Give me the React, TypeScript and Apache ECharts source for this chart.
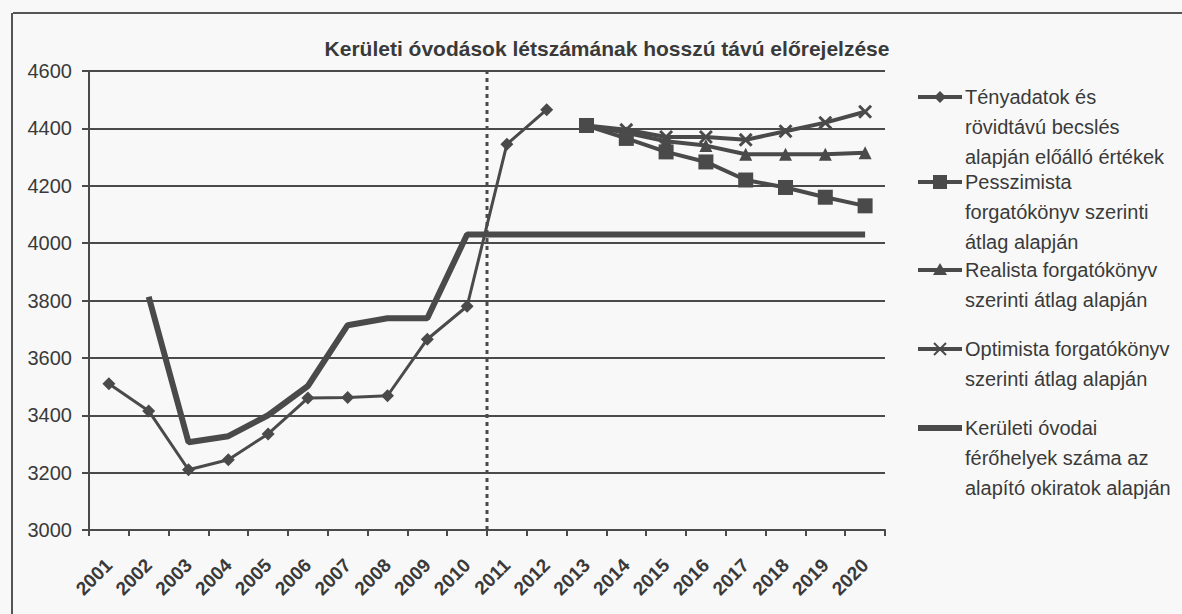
import React, { useEffect, useRef } from "react";
import * as echarts from "echarts";

const years = ["2001","2002","2003","2004","2005","2006","2007","2008","2009","2010","2011","2012","2013","2014","2015","2016","2017","2018","2019","2020"];
const tenyadatok = [3510, 3415, 3210, 3245, 3335, 3460, 3462, 3468, 3665, 3780, 4345, 4465, null, null, null, null, null, null, null, null];
const pesszimista = [null, null, null, null, null, null, null, null, null, null, null, null, 4410, 4365, 4318, 4283, 4220, 4194, 4160, 4130];
const realista = [null, null, null, null, null, null, null, null, null, null, null, null, 4410, 4385, 4355, 4340, 4310, 4310, 4310, 4315];
const optimista = [null, null, null, null, null, null, null, null, null, null, null, null, 4410, 4395, 4370, 4370, 4360, 4390, 4420, 4458];
const ferohelyek = [null, 3813, 3306, 3327, 3400, 3502, 3714, 3738, 3738, 4030, 4030, 4030, 4030, 4030, 4030, 4030, 4030, 4030, 4030, 4030];
const dividerLine = [[10, 3000], [10, 4600]];

const seriesNames = [
  "Tényadatok és\nrövidtávú becslés\nalapján előálló értékek",
  "Pesszimista\nforgatókönyv szerinti\nátlag alapján",
  "Realista forgatókönyv\nszerinti átlag alapján",
  "Optimista forgatókönyv\nszerinti átlag alapján",
  "Kerületi óvodai\nférőhelyek száma az\nalapító okiratok alapján",
];
const title = "Kerületi óvodások létszámának hosszú távú előrejelzése";

const C = "#4a4a4a";
const FONT = "'Liberation Sans', Arial, sans-serif";
const X_SYMBOL = "path://M0,1.5L1.5,0L5,3.5L8.5,0L10,1.5L6.5,5L10,8.5L8.5,10L5,6.5L1.5,10L0,8.5L3.5,5Z";

export default function App() {
  const ref = useRef<HTMLDivElement>(null);
  useEffect(() => {
    const chart = echarts.init(ref.current!, null, { renderer: "svg" });

    const legendYs = [97, 182, 270, 349, 428];
    const legendGraphics: any[] = [];
    legendYs.forEach((y, i) => {
      legendGraphics.push({
        type: "line",
        shape: { x1: 918, y1: y, x2: 962, y2: y },
        style: { stroke: C, lineWidth: i === 4 ? 6 : 4 },
      });
      if (i === 0) {
        legendGraphics.push({ type: "polygon", shape: { points: [[940, y - 6], [946, y], [940, y + 6], [934, y]] }, style: { fill: C } });
      } else if (i === 1) {
        legendGraphics.push({ type: "rect", shape: { x: 933, y: y - 7, width: 14, height: 14 }, style: { fill: C } });
      } else if (i === 2) {
        legendGraphics.push({ type: "polygon", shape: { points: [[940, y - 7], [947, y + 5], [933, y + 5]] }, style: { fill: C } });
      } else if (i === 3) {
        legendGraphics.push({ type: "line", shape: { x1: 934, y1: y - 6, x2: 946, y2: y + 6 }, style: { stroke: C, lineWidth: 2 } });
        legendGraphics.push({ type: "line", shape: { x1: 946, y1: y - 6, x2: 934, y2: y + 6 }, style: { stroke: C, lineWidth: 2 } });
      }
      legendGraphics.push({
        type: "text",
        x: 965,
        y: y - 15,
        style: { text: seriesNames[i], font: `20px ${FONT}`, fill: "#3a3a3a", lineHeight: 30, verticalAlign: "top" },
      });
    });

    chart.setOption({
      animation: false,
      backgroundColor: "#f8f8f8",
      title: {
        text: title,
        left: 602,
        top: 33,
        textAlign: "center",
        textStyle: { fontFamily: FONT, fontSize: 21, fontWeight: "bold", color: "#3a3a3a" },
      },
      grid: { left: 89, top: 71, width: 796, height: 459, containLabel: false },
      xAxis: [
        {
          type: "category",
          data: years,
          boundaryGap: true,
          axisLine: { lineStyle: { color: C, width: 2 } },
          axisTick: { show: true, length: 6, lineStyle: { color: C, width: 2 } },
          axisLabel: { rotate: 45, fontFamily: FONT, fontSize: 19, fontWeight: "bold", color: "#3a3a3a", margin: 32 },
        },
        { type: "value", min: 0, max: 20, show: false },
      ],
      yAxis: {
        type: "value",
        min: 3000,
        max: 4600,
        interval: 200,
        axisLine: { show: true, lineStyle: { color: C, width: 2 } },
        axisTick: { show: true, length: 7, lineStyle: { color: C, width: 2 } },
        axisLabel: { fontFamily: FONT, fontSize: 20, color: "#3a3a3a", margin: 17, formatter: (v: number) => String(v) },
        splitLine: { lineStyle: { color: C, width: 2 } },
      },
      series: [
        {
          name: "divider",
          type: "line",
          xAxisIndex: 1,
          data: dividerLine,
          symbol: "none",
          lineStyle: { color: C, width: 3, type: [4, 4] },
          silent: true,
        },
        {
          name: seriesNames[4],
          type: "line",
          data: ferohelyek,
          symbol: "none",
          lineStyle: { color: C, width: 6 },
        },
        {
          name: seriesNames[0],
          type: "line",
          data: tenyadatok,
          symbol: "diamond",
          symbolSize: 13,
          itemStyle: { color: C },
          lineStyle: { color: C, width: 3 },
        },
        {
          name: seriesNames[3],
          type: "line",
          data: optimista,
          symbol: X_SYMBOL,
          symbolSize: 14,
          itemStyle: { color: C },
          lineStyle: { color: C, width: 4 },
        },
        {
          name: seriesNames[2],
          type: "line",
          data: realista,
          symbol: "triangle",
          symbolSize: 13,
          itemStyle: { color: C },
          lineStyle: { color: C, width: 4 },
        },
        {
          name: seriesNames[1],
          type: "line",
          data: pesszimista,
          symbol: "rect",
          symbolSize: 15,
          itemStyle: { color: C },
          lineStyle: { color: C, width: 4 },
        },
      ],
      graphic: [
        { type: "line", shape: { x1: 13, y1: 13, x2: 1182, y2: 13 }, style: { stroke: "#555", lineWidth: 2 } },
        { type: "line", shape: { x1: 12, y1: 13, x2: 12, y2: 614 }, style: { stroke: "#555", lineWidth: 2 } },
        ...legendGraphics,
      ],
    });
    return () => chart.dispose();
  }, []);
  return <div ref={ref} style={{ position: "fixed", left: 0, top: 0, width: 1182, height: 614 }} />;
}
